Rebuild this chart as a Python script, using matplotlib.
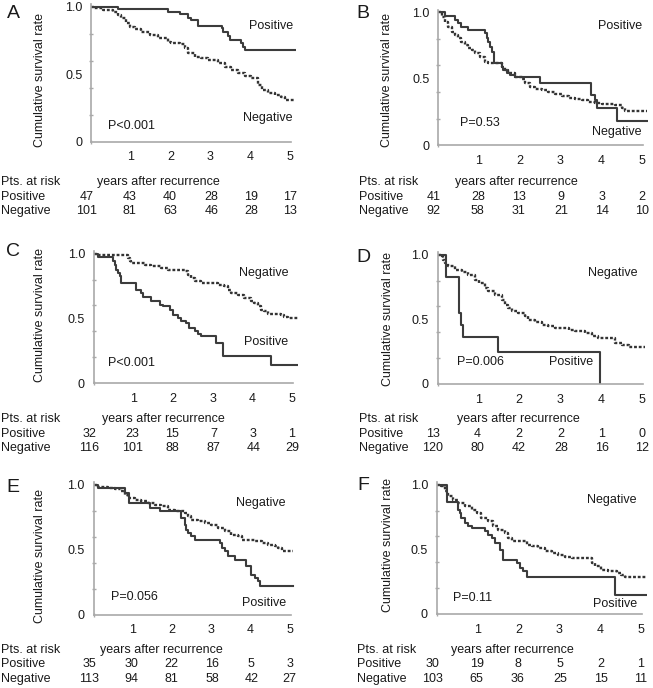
import matplotlib
matplotlib.use("Agg")
import matplotlib.pyplot as plt
from matplotlib.transforms import blended_transform_factory

plt.rcParams['font.family'] = ['Liberation Sans', 'DejaVu Sans']

W, H = 653, 688

# ---------------- data ----------------
panels = ["A", "B", "C", "D", "E", "F"]
p_values = ["P<0.001", "P=0.53", "P<0.001", "P=0.006", "P=0.056", "P=0.11"]
xtick_labels = ["1", "2", "3", "4", "5"]
ytick_labels = ["0", "0.5", "1.0"]

A_pos_t = [0, 0.67, 1.93, 2.23, 2.44, 2.52, 2.69, 3.28, 3.32, 3.45, 3.49, 3.78, 3.82, 3.87, 5.13]
A_pos_s = [1.0, 0.983, 0.963, 0.945, 0.92, 0.90, 0.86, 0.84, 0.815, 0.78, 0.755, 0.73, 0.70, 0.68, 0.68]
A_neg_t = [0, 0.08, 0.29, 0.55, 0.67, 0.76, 0.88, 0.97, 1.09, 1.26, 1.47, 1.68, 1.93, 2.02, 2.23, 2.35, 2.44,
           2.61, 2.77, 2.94, 3.19, 3.36, 3.53, 3.70, 3.87, 4.03, 4.20, 4.29, 4.45, 4.62, 4.79, 4.87, 5.13]
A_neg_s = [1.0, 0.988, 0.975, 0.958, 0.938, 0.914, 0.877, 0.852, 0.835, 0.815, 0.790, 0.765, 0.741, 0.728, 0.721,
           0.691, 0.654, 0.630, 0.617, 0.605, 0.580, 0.556, 0.531, 0.506, 0.489, 0.469, 0.420, 0.383, 0.358, 0.346,
           0.333, 0.309, 0.309]

B_pos_t = [0, 0.16, 0.41, 0.49, 0.57, 0.74, 1.15, 1.19, 1.23, 1.27, 1.31, 1.36, 1.56, 1.60, 1.68, 1.76, 1.89,
           2.5, 3.75, 3.84, 3.89, 4.39, 5.12]
B_pos_s = [1.0, 0.97, 0.943, 0.918, 0.893, 0.868, 0.843, 0.805, 0.78, 0.742, 0.704, 0.616, 0.591, 0.566, 0.541,
           0.528, 0.516, 0.47, 0.377, 0.34, 0.277, 0.184, 0.184]
B_neg_t = [0, 0.08, 0.16, 0.25, 0.33, 0.41, 0.49, 0.57, 0.66, 0.74, 0.82, 0.90, 1.02, 1.15, 1.23, 1.56, 1.64,
           1.72, 1.89, 2.05, 2.13, 2.25, 2.38, 2.54, 2.70, 2.87, 3.03, 3.20, 3.36, 3.52, 3.69, 3.85, 4.02, 4.34,
           4.51, 4.59, 5.12]
B_neg_s = [1.0, 0.969, 0.931, 0.893, 0.855, 0.830, 0.805, 0.780, 0.755, 0.730, 0.717, 0.692, 0.667, 0.629,
           0.616, 0.591, 0.566, 0.541, 0.516, 0.498, 0.465, 0.440, 0.423, 0.415, 0.397, 0.382, 0.372, 0.352,
           0.347, 0.342, 0.327, 0.314, 0.307, 0.302, 0.277, 0.257, 0.257]

C_pos_t = [0, 0.10, 0.48, 0.52, 0.56, 0.61, 0.65, 0.69, 1.07, 1.19, 1.24, 1.45, 1.66, 1.74, 1.91, 1.99, 2.12,
           2.20, 2.33, 2.41, 2.54, 2.62, 2.71, 3.08, 3.25, 4.47, 5.14]
C_pos_s = [1.0, 0.975, 0.942, 0.916, 0.877, 0.852, 0.826, 0.774, 0.723, 0.697, 0.663, 0.632, 0.606, 0.594,
           0.568, 0.529, 0.503, 0.477, 0.465, 0.426, 0.400, 0.379, 0.361, 0.310, 0.206, 0.137, 0.137]
C_neg_t = [0, 0.10, 0.86, 0.90, 0.94, 1.28, 1.45, 1.70, 1.87, 2.29, 2.37, 2.45, 2.54, 2.71, 3.13, 3.29, 3.38,
           3.46, 3.63, 3.80, 3.97, 4.05, 4.13, 4.22, 4.30, 4.39, 4.72, 4.81, 4.89, 5.14]
C_neg_s = [1.0, 0.988, 0.968, 0.942, 0.929, 0.916, 0.903, 0.890, 0.877, 0.865, 0.839, 0.813, 0.787, 0.774,
           0.761, 0.748, 0.723, 0.697, 0.684, 0.658, 0.632, 0.619, 0.594, 0.568, 0.555, 0.537, 0.529, 0.508,
           0.503, 0.503]

D_pos_t = [0, 0.20, 0.51, 0.53, 0.57, 0.62, 1.49, 3.98]
D_pos_s = [1.0, 0.83, 0.69, 0.55, 0.46, 0.366, 0.25, 0.0]
D_neg_t = [0, 0.10, 0.14, 0.18, 0.26, 0.43, 0.59, 0.75, 0.92, 1.00, 1.16, 1.24, 1.41, 1.57, 1.65, 1.73, 1.82,
           1.98, 2.14, 2.22, 2.39, 2.55, 2.71, 2.88, 3.21, 3.37, 3.61, 3.78, 3.94, 4.35, 4.51, 4.68, 5.09]
D_neg_s = [1.0, 0.988, 0.963, 0.937, 0.911, 0.885, 0.867, 0.846, 0.808, 0.782, 0.743, 0.717, 0.692, 0.653,
           0.614, 0.588, 0.563, 0.550, 0.524, 0.498, 0.480, 0.459, 0.446, 0.434, 0.421, 0.408, 0.395, 0.369,
           0.356, 0.317, 0.299, 0.286, 0.286]

E_pos_t = [0, 0.11, 0.79, 0.91, 1.43, 1.68, 2.23, 2.32, 2.36, 2.40, 2.49, 2.57, 3.21, 3.26, 3.34, 3.43, 3.60,
           3.89, 4.02, 4.11, 4.19, 4.23, 5.09]
E_pos_s = [1.0, 0.974, 0.936, 0.859, 0.821, 0.795, 0.744, 0.692, 0.654, 0.628, 0.603, 0.577, 0.551, 0.513,
           0.487, 0.449, 0.423, 0.372, 0.308, 0.282, 0.256, 0.218, 0.218]
E_neg_t = [0, 0.11, 0.36, 0.53, 0.70, 0.79, 0.87, 1.04, 1.21, 1.38, 1.55, 1.72, 1.89, 2.06, 2.23, 2.32, 2.40,
           2.49, 2.66, 2.83, 3.00, 3.17, 3.34, 3.51, 3.68, 3.77, 4.11, 4.28, 4.45, 4.62, 4.70, 4.79, 5.09]
E_neg_s = [1.0, 0.979, 0.974, 0.967, 0.949, 0.923, 0.897, 0.885, 0.872, 0.859, 0.846, 0.833, 0.808, 0.800,
           0.795, 0.782, 0.756, 0.731, 0.718, 0.705, 0.692, 0.667, 0.641, 0.615, 0.603, 0.577, 0.564, 0.551,
           0.538, 0.526, 0.513, 0.487, 0.487]

F_pos_t = [0, 0.24, 0.52, 0.56, 0.60, 0.69, 0.77, 0.85, 1.18, 1.26, 1.34, 1.42, 1.54, 1.62, 1.95, 2.03, 2.11,
           2.20, 4.36, 5.13]
F_pos_s = [1.0, 0.867, 0.808, 0.782, 0.743, 0.705, 0.679, 0.666, 0.640, 0.614, 0.588, 0.550, 0.498, 0.421,
           0.395, 0.356, 0.330, 0.286, 0.145, 0.145]
F_neg_t = [0, 0.11, 0.20, 0.28, 0.40, 0.52, 0.69, 0.85, 0.97, 1.09, 1.26, 1.38, 1.50, 1.67, 1.75, 1.83, 2.20,
           2.32, 2.48, 2.64, 2.81, 2.97, 3.13, 3.30, 3.79, 3.87, 4.03, 4.20, 4.40, 4.52, 4.60, 5.13]
F_neg_s = [1.0, 0.988, 0.950, 0.911, 0.885, 0.859, 0.834, 0.808, 0.782, 0.743, 0.717, 0.679, 0.653, 0.627,
           0.588, 0.563, 0.537, 0.524, 0.511, 0.485, 0.472, 0.454, 0.441, 0.434, 0.395, 0.369, 0.343, 0.330,
           0.317, 0.305, 0.286, 0.286]

# numbers at risk at 0..5 years
A_risk_pos = [47, 43, 40, 28, 19, 17]
A_risk_neg = [101, 81, 63, 46, 28, 13]
B_risk_pos = [41, 28, 13, 9, 3, 2]
B_risk_neg = [92, 58, 31, 21, 14, 10]
C_risk_pos = [32, 23, 15, 7, 3, 1]
C_risk_neg = [116, 101, 88, 87, 44, 29]
D_risk_pos = [13, 4, 2, 2, 1, 0]
D_risk_neg = [120, 80, 42, 28, 16, 12]
E_risk_pos = [35, 30, 22, 16, 5, 3]
E_risk_neg = [113, 94, 81, 58, 42, 27]
F_risk_pos = [30, 19, 8, 5, 2, 1]
F_risk_neg = [103, 65, 36, 25, 15, 11]

curves = {
    "A": (A_pos_t, A_pos_s, A_neg_t, A_neg_s, A_risk_pos, A_risk_neg),
    "B": (B_pos_t, B_pos_s, B_neg_t, B_neg_s, B_risk_pos, B_risk_neg),
    "C": (C_pos_t, C_pos_s, C_neg_t, C_neg_s, C_risk_pos, C_risk_neg),
    "D": (D_pos_t, D_pos_s, D_neg_t, D_neg_s, D_risk_pos, D_risk_neg),
    "E": (E_pos_t, E_pos_s, E_neg_t, E_neg_s, E_risk_pos, E_risk_neg),
    "F": (F_pos_t, F_pos_s, F_neg_t, F_neg_s, F_risk_pos, F_risk_neg),
}

# ---------------- layout (pixels) ----------------
# x of year 0, px per year, y of survival 0 (from top), px per unit
geom = {
    "A": (91.3, 39.7, 141.7, 135.0),
    "B": (438.3, 40.7, 145.0, 132.5),
    "C": (94.0, 39.6, 383.0, 129.2),
    "D": (437.7, 40.8, 384.0, 129.2),
    "E": (93.8, 39.2, 614.7, 130.0),
    "F": (437.0, 40.8, 614.0, 129.2),
}
letter_pos = {"A": (13, 14), "B": (363, 14), "C": (13, 252), "D": (363, 257), "E": (13, 487), "F": (363, 486)}
ylabel_pos = {"A": (40, 80), "B": (387, 80), "C": (40, 315), "D": (388, 319), "E": (40, 556), "F": (388, 545)}
table_rows = {"A": (182, 197, 211), "B": (182, 197, 211), "C": (419, 434, 448), "D": (419, 434, 448),
              "E": (650, 664, 679), "F": (650, 664, 679)}
table_left = {"A": 1, "B": 359, "C": 1, "D": 359, "E": 1, "F": 357}
years_x = {"A": 97, "B": 455, "C": 102, "D": 457, "E": 100, "F": 451}
col_x = [-0.12, 0.97, 1.98, 3.02, 4.02, 5.0]
# label positions in data coords: (Positive xr, y), (Negative xr, y), (P xl, y)
lab_pos = {
    "A": ((5.08, 0.857), (5.08, 0.176), (0.42, 0.116)),
    "B": ((5.0, 0.90), (5.0, 0.098), (0.53, 0.166)),
    "C": ((4.9, 0.317), (4.9, 0.85), (0.35, 0.155)),
    "D": ((3.8, 0.17), (4.9, 0.86), (0.47, 0.17)),
    "E": ((4.9, 0.09), (4.9, 0.86), (0.44, 0.136)),
    "F": ((4.9, 0.077), (4.9, 0.88), (0.39, 0.124)),
}

FS = 9
TXT = "#1a1a1a"
SPINE = "#a9a9a9"
XMAX, YMAX = 5.15, 1.03

fig = plt.figure(figsize=(W / 100, H / 100), dpi=100)

for i, key in enumerate(panels):
    x0, pxy, y0, pu = geom[key]
    left = x0 / W
    bottom = (H - y0) / H
    ax = fig.add_axes([left, bottom, XMAX * pxy / W, YMAX * pu / H])
    pt, ps, nt, ns, rp, rn = curves[key]
    ax.step(nt, ns, where="post", color="#333333", lw=1.7, linestyle=(0, (1.2, 0.8)))
    ax.step(pt, ps, where="post", color="#3c3c3c", lw=1.5, linestyle="-")
    ax.set_xlim(0, XMAX)
    ax.set_ylim(0, YMAX)
    for s in ["top", "right"]:
        ax.spines[s].set_visible(False)
    for s in ["left", "bottom"]:
        ax.spines[s].set_color(SPINE)
        ax.spines[s].set_linewidth(1.2)
    ax.spines["bottom"].set_bounds(0, 5.03)
    ax.spines["left"].set_bounds(0, 1.02)
    ax.set_xticks([1, 2, 3, 4, 5])
    ax.set_xticklabels(xtick_labels)
    ax.set_xticks([0, 1, 2, 3, 4, 5], minor=True)
    ax.set_yticks([0, 0.5, 1.0])
    ax.set_yticklabels(ytick_labels)
    ax.set_yticks([0.2, 0.4, 0.6, 0.8], minor=True)
    ax.tick_params(axis="x", which="major", length=0, pad=7, labelsize=FS, labelcolor=TXT)
    ax.tick_params(axis="x", which="minor", length=2.5, width=1, color=SPINE, direction="inout")
    ax.tick_params(axis="y", which="major", length=0, pad=6.5, labelsize=FS, labelcolor=TXT)
    ax.tick_params(axis="y", which="minor", length=2.5, width=1, color=SPINE, direction="inout")
    ax.patch.set_alpha(0)

    (pxr, pyy), (nxr, nyy), (pvx, pvy) = lab_pos[key]
    ax.text(pxr, pyy, "Positive", ha="right", va="center", fontsize=FS, color=TXT)
    ax.text(nxr, nyy, "Negative", ha="right", va="center", fontsize=FS, color=TXT)
    ax.text(pvx, pvy, p_values[i], ha="left", va="center", fontsize=FS, color=TXT)

    lx, ly = letter_pos[key]
    fig.text(lx / W, 1 - ly / H, key, ha="center", va="center", fontsize=14, color=TXT)
    yx, yy = ylabel_pos[key]
    fig.text(yx / W, 1 - yy / H, "Cumulative survival rate", rotation=90, ha="center", va="center",
             fontsize=FS, color=TXT)

    r0, r1, r2 = table_rows[key]
    tl = table_left[key]
    fig.text(tl / W, 1 - r0 / H, "Pts. at risk", ha="left", va="center", fontsize=FS, color=TXT)
    fig.text(years_x[key] / W, 1 - r0 / H, "years after recurrence", ha="left", va="center", fontsize=FS, color=TXT)
    fig.text(tl / W, 1 - r1 / H, "Positive", ha="left", va="center", fontsize=FS, color=TXT)
    fig.text(tl / W, 1 - r2 / H, "Negative", ha="left", va="center", fontsize=FS, color=TXT)
    tr = blended_transform_factory(ax.transData, fig.transFigure)
    for cx, a, b in zip(col_x, rp, rn):
        fig.text(cx, 1 - r1 / H, str(a), ha="center", va="center", fontsize=FS, color=TXT, transform=tr)
        fig.text(cx, 1 - r2 / H, str(b), ha="center", va="center", fontsize=FS, color=TXT, transform=tr)

fig.savefig("out.png", dpi=100, facecolor="white")
